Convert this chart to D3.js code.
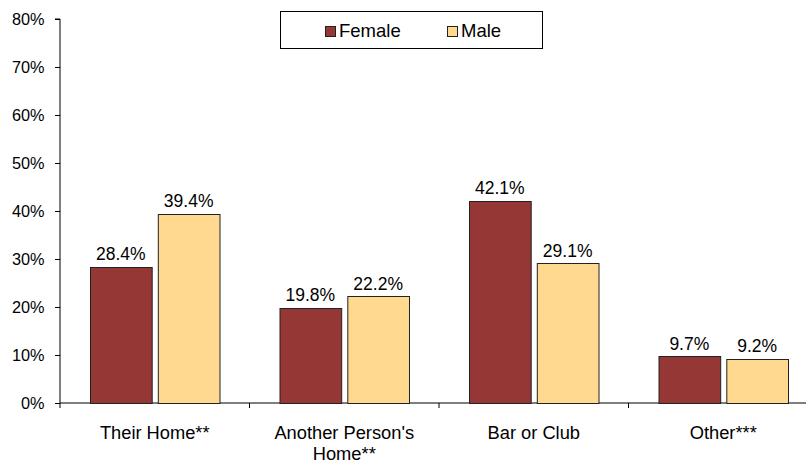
<!DOCTYPE html>
<html>
<head>
<meta charset="utf-8">
<script src="https://cdn.jsdelivr.net/npm/d3@7"></script>
<style>
  body { margin: 0; background: #fff; }
  svg { display: block; font-family: "Liberation Sans", Arial, sans-serif; }
</style>
</head>
<body>
<div id="chart"></div>
<script>
// chart values
const categories = ["Their Home**", "Another Person's\nHome**", "Bar or Club", "Other***"];
const seriesNames = ["Female", "Male"];
const femaleValues = [28.4, 19.8, 42.1, 9.7];
const maleValues = [39.4, 22.2, 29.1, 9.2];
const yTicks = [0, 10, 20, 30, 40, 50, 60, 70, 80];

const width = 806, height = 463;
const colors = { Female: "#953735", Male: "#FFD98F" };

const svg = d3.select('#chart').append('svg')
    .attr('width', width)
    .attr('height', height);

const x = d3.scaleBand()
    .domain(categories)
    .range([60, 818])
    .paddingInner(0)
    .paddingOuter(0);

const xInner = d3.scaleBand()
    .domain(seriesNames)
    .range([30, x.bandwidth() - 30])
    .paddingInner(0.09);

const y = d3.scaleLinear()
    .domain([0, 80])
    .range([403, 19]);

// y axis
const yAxis = svg.append('g')
    .attr('transform', 'translate(60,0)')
    .call(d3.axisLeft(y).tickValues(yTicks).tickSize(5).tickFormat(d => d + '%'));
yAxis.select('.domain').attr('d', `M-5,${y(80)}H0V${y(0)}`).attr('stroke', '#000');
yAxis.selectAll('.tick line').attr('stroke', '#000');
yAxis.selectAll('.tick text')
    .attr('x', -15.5)
    .attr('dy', '0.36em')
    .attr('fill', '#000')
    .style('font-size', '16.3px')
    .attr('font-family', '"Liberation Sans", Arial, sans-serif');

// x axis line with category dividers
const xAxis = svg.append('g');
xAxis.append('line')
    .attr('x1', 60).attr('x2', 818)
    .attr('y1', y(0)).attr('y2', y(0))
    .attr('stroke', '#000');
const dividers = categories.map(c => x(c));
xAxis.selectAll('.div-tick')
    .data(dividers)
    .join('line')
    .attr('x1', d => d).attr('x2', d => d)
    .attr('y1', y(0)).attr('y2', y(0) + 5)
    .attr('stroke', '#000');

// category labels
categories.forEach(c => {
    const lines = c.split('\n');
    const t = svg.append('text')
        .attr('x', x(c) + x.bandwidth() / 2)
        .attr('y', 439)
        .attr('text-anchor', 'middle')
        .style('font-size', '18.3px')
        .attr('fill', '#000');
    lines.forEach((l, i) => {
        t.append('tspan')
            .attr('x', x(c) + x.bandwidth() / 2)
            .attr('dy', i === 0 ? 0 : 21)
            .text(l);
    });
});

// bars
const rows = categories.map((c, i) => ({
    category: c,
    values: [
        { series: "Female", value: femaleValues[i] },
        { series: "Male", value: maleValues[i] }
    ]
}));

const groups = svg.selectAll('.grp')
    .data(rows)
    .join('g')
    .attr('transform', d => `translate(${x(d.category)},0)`);

groups.selectAll('rect')
    .data(d => d.values)
    .join('rect')
    .attr('x', d => xInner(d.series) + 0.5)
    .attr('y', d => Math.round(y(d.value)) + 0.5)
    .attr('width', xInner.bandwidth())
    .attr('height', d => Math.round(y(0)) - Math.round(y(d.value)))
    .attr('fill', d => colors[d.series])
    .attr('stroke', '#222')
    .attr('stroke-width', 1);

groups.selectAll('.val')
    .data(d => d.values)
    .join('text')
    .attr('x', d => xInner(d.series) + xInner.bandwidth() / 2)
    .attr('y', d => y(d.value) - 6.5)
    .attr('text-anchor', 'middle')
    .style('font-size', '17.5px')
    .attr('fill', '#000')
    .text(d => d.value.toFixed(1) + '%');

// legend
const legend = svg.append('g');
legend.append('rect')
    .attr('x', 280.5).attr('y', 11.5)
    .attr('width', 262).attr('height', 37)
    .attr('fill', '#fff')
    .attr('stroke', '#000');
const legendX = [325, 447];
seriesNames.forEach((s, i) => {
    legend.append('rect')
        .attr('x', legendX[i] + 0.5).attr('y', 26.5)
        .attr('width', 10).attr('height', 10)
        .attr('fill', colors[s])
        .attr('stroke', '#222');
    legend.append('text')
        .attr('x', legendX[i] + 14)
        .attr('y', 36.7)
        .style('font-size', '18.5px')
        .attr('fill', '#000')
        .text(s);
});
</script>
</body>
</html>
